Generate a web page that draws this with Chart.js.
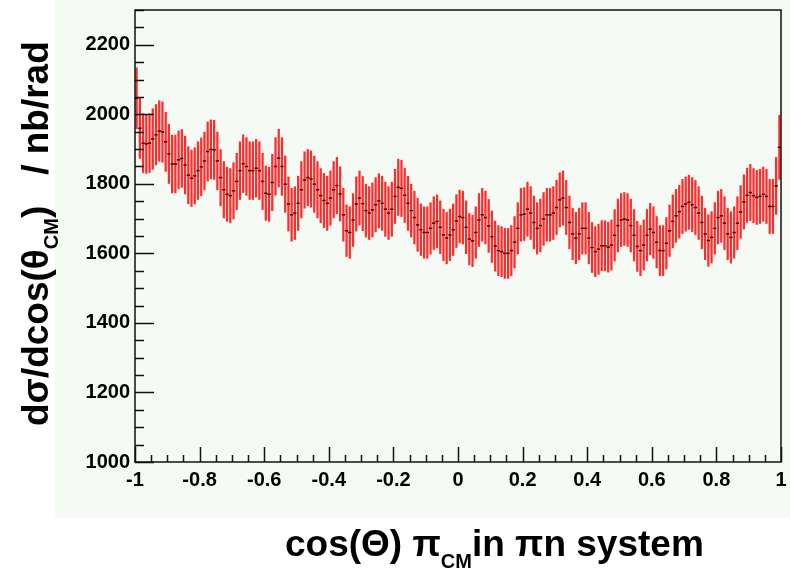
<!DOCTYPE html>
<html>
<head>
<meta charset="utf-8">
<script src="https://cdn.jsdelivr.net/npm/chart.js@4.4.1/dist/chart.umd.min.js"></script>
<style>
  body { margin: 0; background: #ffffff; }
  canvas { display: block; }
</style>
</head>
<body>
<canvas id="xsec" width="790" height="575"></canvas>
<script>
// histogram binning: 200 bins over cos(theta) in [-1, 1]
const nBins = 200;
const xLow = -1;
const xHigh = 1;

// dsigma/dcos per bin (nb/rad)
const xsec = [
  2046, 1960, 1917, 1915, 1917, 1929, 1941, 1952, 1949, 1921, 1886, 1857, 1857, 1869, 1873, 1854, 1825, 1816, 1823, 1838,
  1849, 1866, 1893, 1899, 1898, 1866, 1818, 1783, 1770, 1766, 1780, 1807, 1838, 1858, 1850, 1838, 1838, 1845, 1838, 1807,
  1773, 1770, 1804, 1850, 1874, 1850, 1799, 1742, 1711, 1716, 1744, 1783, 1811, 1818, 1814, 1799, 1783, 1766, 1752, 1744,
  1759, 1783, 1795, 1771, 1711, 1665, 1660, 1696, 1742, 1759, 1743, 1723, 1716, 1725, 1740, 1751, 1744, 1727, 1716, 1727,
  1764, 1790, 1787, 1767, 1744, 1723, 1703, 1682, 1668, 1660, 1660, 1672, 1687, 1692, 1675, 1653, 1644, 1653, 1668, 1693,
  1706, 1703, 1675, 1641, 1636, 1660, 1696, 1711, 1703, 1679, 1648, 1621, 1608, 1605, 1600, 1600, 1608, 1632, 1672, 1711,
  1713, 1727, 1716, 1689, 1672, 1680, 1699, 1711, 1711, 1716, 1732, 1754, 1759, 1732, 1689, 1656, 1644, 1656, 1672, 1672,
  1644, 1617, 1605, 1612, 1622, 1622, 1618, 1624, 1652, 1680, 1696, 1699, 1696, 1680, 1652, 1620, 1608, 1624, 1652, 1670,
  1660, 1632, 1608, 1608, 1629, 1665, 1692, 1708, 1720, 1735, 1742, 1747, 1740, 1732, 1716, 1689, 1656, 1637, 1646, 1672,
  1703, 1708, 1687, 1656, 1646, 1660, 1687, 1719, 1748, 1767, 1775, 1766, 1761, 1764, 1770, 1764, 1735, 1735, 1794, 1905
];

// statistical error per bin
const xsecErr = [
  88, 87, 85, 85, 85, 87, 87, 87, 87, 85, 85, 83, 83, 83, 83, 83, 82, 81, 81, 83,
  83, 83, 85, 85, 85, 83, 81, 81, 78, 78, 81, 81, 83, 83, 83, 83, 83, 83, 83, 81,
  78, 78, 81, 83, 83, 83, 81, 78, 76, 76, 78, 81, 81, 81, 81, 81, 81, 78, 78, 78,
  78, 81, 81, 78, 76, 74, 74, 76, 78, 78, 78, 76, 76, 78, 78, 78, 78, 78, 76, 78,
  78, 81, 81, 78, 78, 76, 76, 76, 74, 74, 74, 74, 76, 76, 76, 74, 74, 74, 74, 76,
  76, 76, 76, 74, 74, 74, 76, 76, 76, 76, 74, 72, 72, 72, 72, 72, 72, 74, 74, 76,
  76, 78, 76, 76, 74, 76, 76, 76, 76, 76, 78, 78, 78, 78, 76, 74, 74, 74, 74, 74,
  74, 72, 72, 72, 72, 72, 72, 72, 74, 76, 76, 76, 76, 76, 74, 72, 72, 72, 74, 74,
  74, 74, 72, 72, 74, 74, 76, 76, 76, 78, 78, 78, 78, 78, 76, 76, 74, 74, 74, 74,
  76, 76, 76, 74, 74, 74, 76, 76, 78, 78, 81, 78, 78, 78, 78, 78, 78, 78, 82, 92
];

// axis tick labels
const xTickValues = [-1, -0.8, -0.6, -0.4, -0.2, 0, 0.2, 0.4, 0.6, 0.8, 1];
const yTickValues = [1000, 1200, 1400, 1600, 1800, 2000, 2200];

const binWidth = (xHigh - xLow) / nBins;
const binCenters = [];
for (let i = 0; i < nBins; i++) {
  binCenters.push(xLow + (i + 0.5) * binWidth);
}

const errBars = binCenters.map((x, i) => ({ x: x, y: [xsec[i] - xsecErr[i], xsec[i] + xsecErr[i]] }));
const centres = binCenters.map((x, i) => ({ x: x, y: xsec[i] }));

const panelColor = "#f5faf5";
const fontFam = "'Liberation Sans', Arial, Helvetica, sans-serif";

// pad background, frame, inward ticks and axis titles
const rootStyle = {
  id: "rootStyle",
  beforeDraw(chart) {
    const c = chart.ctx;
    c.save();
    c.fillStyle = "#ffffff";
    c.fillRect(0, 0, chart.width, chart.height);
    c.fillStyle = panelColor;
    c.fillRect(55, 0, chart.width - 55, 518);
    c.restore();
  },
  afterDraw(chart) {
    const c = chart.ctx;
    const a = chart.chartArea;
    const xs = chart.scales.x;
    const ys = chart.scales.y;
    c.save();
    c.strokeStyle = "#111111";
    c.lineWidth = 1.5;
    c.strokeRect(a.left, a.top, a.right - a.left, a.bottom - a.top);

    c.beginPath();
    for (let v = 1000; v <= 2300; v += 50) {
      const py = Math.round(ys.getPixelForValue(v)) + 0.5;
      const len = v % 200 === 0 ? 19 : 9;
      c.moveTo(a.left, py);
      c.lineTo(a.left + len, py);
    }
    for (let k = -20; k <= 20; k++) {
      const px = Math.round(xs.getPixelForValue(k * 0.05)) + 0.5;
      const len = k % 4 === 0 ? 15 : 7;
      c.moveTo(px, a.bottom);
      c.lineTo(px, a.bottom - len);
    }
    c.stroke();

    c.fillStyle = "#000000";
    c.textBaseline = "alphabetic";
    c.textAlign = "left";

    // y title, rotated
    c.save();
    c.translate(48, 426);
    c.rotate(-Math.PI / 2);
    let x = 0;
    c.font = "bold 37px " + fontFam;
    c.fillText("d\u03c3/dcos(\u03b8", x, 0);
    x += c.measureText("d\u03c3/dcos(\u03b8").width;
    c.font = "bold 20px " + fontFam;
    c.fillText("CM", x, 10);
    x += c.measureText("CM").width;
    c.font = "bold 37px " + fontFam;
    c.fillText(")   / nb/rad", x, 0);
    c.restore();

    // x title
    x = 285;
    const by = 556;
    c.font = "bold 37px " + fontFam;
    c.fillText("cos(\u0398) \u03c0", x, by);
    x += c.measureText("cos(\u0398) \u03c0").width;
    c.font = "bold 20px " + fontFam;
    c.fillText("CM", x, by + 12);
    x += c.measureText("CM").width;
    c.font = "bold 37px " + fontFam;
    c.fillText("in \u03c0n system", x, by);
    c.restore();
  }
};

new Chart(document.getElementById("xsec"), {
  type: "bar",
  data: {
    datasets: [
      {
        label: "error",
        data: errBars,
        backgroundColor: "rgba(255, 0, 0, 0.82)",
        borderWidth: 0,
        barThickness: 1.6,
        grouped: false,
        order: 2
      },
      {
        type: "scatter",
        label: "value",
        data: centres,
        pointStyle: "line",
        pointRadius: 1.7,
        pointBorderWidth: 1.5,
        pointBorderColor: "#4a0000",
        pointBackgroundColor: "#4a0000",
        order: 1
      }
    ]
  },
  options: {
    responsive: false,
    animation: false,
    layout: { padding: { left: 0, right: 9, top: 10, bottom: 0 } },
    plugins: { legend: { display: false }, tooltip: { enabled: false } },
    scales: {
      x: {
        type: "linear",
        min: xLow,
        max: xHigh,
        offset: false,
        grid: { display: false, drawTicks: false, offset: false },
        border: { display: false },
        afterFit: (s) => { s.height = 113; s.paddingLeft = 0; s.paddingRight = 0; },
        afterBuildTicks: (s) => { s.ticks = xTickValues.map((v) => ({ value: v })); },
        ticks: {
          autoSkip: false,
          maxRotation: 0,
          padding: 6,
          color: "#000000",
          font: { family: fontFam, weight: "bold", size: 20 },
          callback: (v) => String(Math.round(v * 10) / 10)
        }
      },
      y: {
        min: 1000,
        max: 2300,
        grid: { display: false, drawTicks: false },
        border: { display: false },
        afterFit: (s) => { s.width = 135; s.paddingTop = 0; s.paddingBottom = 0; },
        afterBuildTicks: (s) => { s.ticks = yTickValues.map((v) => ({ value: v })); },
        ticks: {
          padding: 5,
          color: "#000000",
          font: { family: fontFam, weight: "bold", size: 20 },
          callback: (v) => String(v)
        }
      }
    }
  },
  plugins: [rootStyle]
});
</script>
</body>
</html>
